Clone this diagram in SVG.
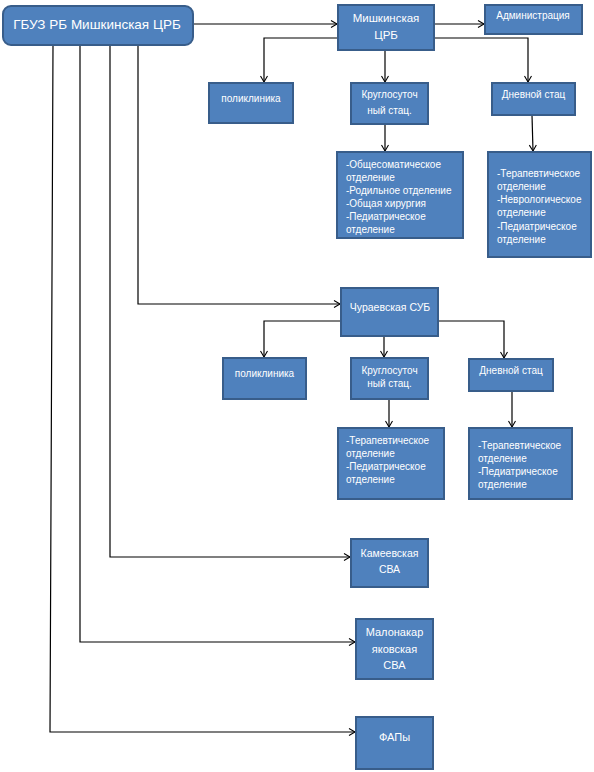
<svg xmlns="http://www.w3.org/2000/svg" width="594" height="772" viewBox="0 0 594 772">
<style>
.box{fill:#4f81bd;stroke:#385d8a;stroke-width:2}
.t{fill:#fff;font-family:"Liberation Sans",Arial,sans-serif;font-size:10px}
.c{text-anchor:middle}
.ln{fill:none;stroke:#000;stroke-width:1.2}
</style>
<defs>
<marker id="ar" markerUnits="userSpaceOnUse" markerWidth="10" markerHeight="10" refX="7" refY="4" orient="auto">
<path d="M1,0.5 L7,4 L1,7.5" fill="none" stroke="#000" stroke-width="1.1"/>
</marker>
</defs>
<rect width="594" height="772" fill="#fff"/>
<g id="connectors">
<path class="ln" d="M193,24 H337" marker-end="url(#ar)"/>
<path class="ln" d="M434,24 H484" marker-end="url(#ar)"/>
<path class="ln" d="M338,38 H264 V82" marker-end="url(#ar)"/>
<path class="ln" d="M385,50 V82" marker-end="url(#ar)"/>
<path class="ln" d="M434,38 H528 V82" marker-end="url(#ar)"/>
<path class="ln" d="M385,124 V151" marker-end="url(#ar)"/>
<path class="ln" d="M532,115 L533,151" marker-end="url(#ar)" stroke="#444"/>
<path class="ln" d="M138,45 V304 H340" marker-end="url(#ar)"/>
<path class="ln" d="M341,321 H264 V357" marker-end="url(#ar)"/>
<path class="ln" d="M384,336 V357" marker-end="url(#ar)"/>
<path class="ln" d="M438,321 H504 V358" marker-end="url(#ar)"/>
<path class="ln" d="M389,399 V427" marker-end="url(#ar)"/>
<path class="ln" d="M512,391 V427" marker-end="url(#ar)"/>
<path class="ln" d="M110,45 V557 H350" marker-end="url(#ar)"/>
<path class="ln" d="M80,45 V642 H355" marker-end="url(#ar)"/>
<path class="ln" d="M53,45 L50,732 H355" marker-end="url(#ar)"/>
</g>
<g id="root">
<rect class="box" x="3" y="6" width="190" height="39" rx="8"/>
<text class="t c" x="97" y="29" style="font-size:13.5px">ГБУЗ РБ Мишкинская ЦРБ</text>
</g>
<g id="mishkin">
<rect class="box" x="338" y="5" width="96" height="45"/>
<text class="t c" x="386" y="22" style="font-size:11.5px">Мишкинская</text>
<text class="t c" x="386" y="39" style="font-size:11.5px">ЦРБ</text>
</g>
<g id="admin">
<rect class="box" x="485" y="5" width="97" height="29"/>
<text class="t c" x="533" y="19">Администрация</text>
</g>
<g id="poli1">
<rect class="box" x="209" y="83" width="84" height="40"/>
<text class="t c" x="251" y="102">поликлиника</text>
</g>
<g id="krug1">
<rect class="box" x="351" y="83" width="77" height="41"/>
<text class="t c" x="389.5" y="98">Круглосуточ</text>
<text class="t c" x="389.5" y="114">ный стац.</text>
</g>
<g id="dnev1">
<rect class="box" x="492" y="83" width="83" height="32"/>
<text class="t c" x="533.5" y="98">Дневной стац</text>
</g>
<g id="otd1">
<rect class="box" x="337" y="152" width="126" height="86"/>
<text class="t" x="346" y="167.5">-Общесоматическое</text>
<text class="t" x="346" y="180.5">отделение</text>
<text class="t" x="346" y="193.5">-Родильное отделение</text>
<text class="t" x="346" y="206.5">-Общая хирургия</text>
<text class="t" x="346" y="219.5">-Педиатрическое</text>
<text class="t" x="346" y="232.5">отделение</text>
</g>
<g id="otd2">
<rect class="box" x="488" y="152" width="103" height="105"/>
<text class="t" x="497" y="176.5">-Терапевтическое</text>
<text class="t" x="497" y="189.5">отделение</text>
<text class="t" x="497" y="202.5">-Неврологическое</text>
<text class="t" x="497" y="215.5">отделение</text>
<text class="t" x="497" y="229.5">-Педиатрическое</text>
<text class="t" x="497" y="242.5">отделение</text>
</g>
<g id="chur">
<rect class="box" x="341" y="288" width="97" height="48"/>
<text class="t c" x="390" y="311" style="font-size:10.5px">Чураевская СУБ</text>
</g>
<g id="poli2">
<rect class="box" x="223" y="358" width="83" height="41"/>
<text class="t c" x="264.5" y="376.5">поликлиника</text>
</g>
<g id="krug2">
<rect class="box" x="351" y="358" width="77" height="41"/>
<text class="t c" x="389.5" y="373.5">Круглосуточ</text>
<text class="t c" x="389.5" y="386.5">ный стац.</text>
</g>
<g id="dnev2">
<rect class="box" x="469" y="359" width="84" height="32"/>
<text class="t c" x="511" y="373.5">Дневной стац</text>
</g>
<g id="otd3">
<rect class="box" x="338" y="428" width="106" height="71"/>
<text class="t" x="346" y="443.5">-Терапевтическое</text>
<text class="t" x="346" y="456.5">отделение</text>
<text class="t" x="346" y="469.5">-Педиатрическое</text>
<text class="t" x="346" y="482.5">отделение</text>
</g>
<g id="otd4">
<rect class="box" x="469" y="428" width="103" height="71"/>
<text class="t" x="478" y="448.5">-Терапевтическое</text>
<text class="t" x="478" y="461.5">отделение</text>
<text class="t" x="478" y="474.5">-Педиатрическое</text>
<text class="t" x="478" y="487.5">отделение</text>
</g>
<g id="kamee">
<rect class="box" x="351" y="539" width="77" height="48"/>
<text class="t c" x="389.5" y="557" style="font-size:10.5px">Камеевская</text>
<text class="t c" x="389.5" y="573" style="font-size:10.5px">СВА</text>
</g>
<g id="malon">
<rect class="box" x="356" y="619" width="77" height="60"/>
<text class="t c" x="394.5" y="636" style="font-size:11px">Малонакар</text>
<text class="t c" x="394.5" y="653" style="font-size:11px">яковская</text>
<text class="t c" x="394.5" y="669" style="font-size:11px">СВА</text>
</g>
<g id="fap">
<rect class="box" x="356" y="717" width="77" height="52"/>
<text class="t c" x="394.5" y="741" style="font-size:11px">ФАПы</text>
</g>
</svg>
